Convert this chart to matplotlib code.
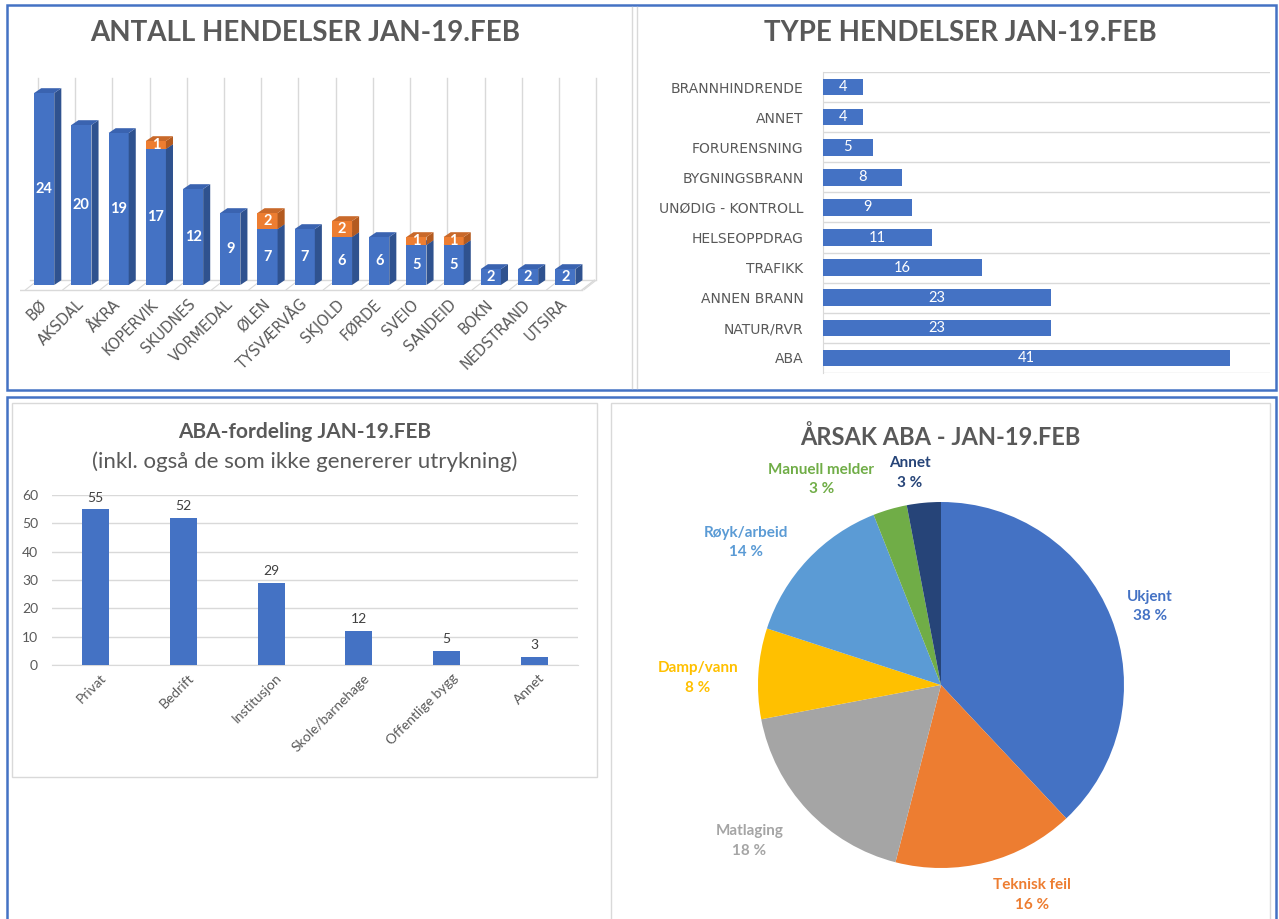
import numpy as np
import matplotlib
matplotlib.use("Agg")
import matplotlib.pyplot as plt
from matplotlib.patches import Rectangle, Polygon

# ---- data ----
places = ["BØ", "AKSDAL", "ÅKRA", "KOPERVIK", "SKUDNES", "VORMEDAL", "ØLEN", "TYSVÆRVÅG",
          "SKJOLD", "FØRDE", "SVEIO", "SANDEID", "BOKN", "NEDSTRAND", "UTSIRA"]
blue_counts = [24, 20, 19, 17, 12, 9, 7, 7, 6, 6, 5, 5, 2, 2, 2]
orange_counts = [0, 0, 0, 1, 0, 0, 2, 0, 2, 0, 1, 1, 0, 0, 0]

types = ["BRANNHINDRENDE", "ANNET", "FORURENSNING", "BYGNINGSBRANN", "UNØDIG - KONTROLL",
         "HELSEOPPDRAG", "TRAFIKK", "ANNEN BRANN", "NATUR/RVR", "ABA"]
type_counts = [4, 4, 5, 8, 9, 11, 16, 23, 23, 41]

aba_cats = ["Privat", "Bedrift", "Institusjon", "Skole/barnehage", "Offentlige bygg", "Annet"]
aba_counts = [55, 52, 29, 12, 5, 3]

cause_labels = ["Ukjent", "Teknisk feil", "Matlaging", "Damp/vann", "Røyk/arbeid",
                "Manuell melder", "Annet"]
cause_pct = [38, 16, 18, 8, 14, 3, 3]
cause_colors = ["#4472C4", "#ED7D31", "#A5A5A5", "#FFC000", "#5B9BD5", "#70AD47", "#264478"]
# label placement tweaks (radius factor, angle shift in degrees) like Excel's best-fit
label_r = [1.22, 1.25, 1.35, 1.33, 1.32, 1.30, 1.17]
label_shift = [-1, 9, -4, 2, 7, 14, 3]

W, H = 1279, 919
GRAY = "#595959"
GRID = "#d9d9d9"
plt.rcParams['font.family'] = ['Lato', 'DejaVu Sans']

fig = plt.figure(figsize=(W / 100, H / 100), dpi=100)


def px_rect(x0, y0, x1, y1):
    return [x0 / W, 1 - y1 / H, (x1 - x0) / W, (y1 - y0) / H]


def box(x0, y0, x1, y1, color, lw):
    fig.patches.append(Rectangle((x0 / W, 1 - y1 / H), (x1 - x0) / W, (y1 - y0) / H,
                                 transform=fig.transFigure, fill=False, ec=color, lw=lw))


def ftext(x, y, s, **kw):
    fig.text(x / W, 1 - y / H, s, ha='center', va='center', **kw)


# frames
box(7, 5, 1276, 390, "#4472C4", 1.8)
box(7, 397, 1276, 925, "#4472C4", 1.8)
fig.add_artist(plt.Line2D([632 / W] * 2, [1 - 7 / H, 1 - 388 / H], color=GRID, lw=1))
fig.add_artist(plt.Line2D([637 / W] * 2, [1 - 7 / H, 1 - 388 / H], color=GRID, lw=1))
box(12, 403, 597, 777, GRID, 1)
box(611, 403, 1270, 925, GRID, 1)

# ---- top left: pseudo 3D stacked columns ----
ax1 = fig.add_axes(px_rect(20, 75, 610, 295))
ax1.set_xlim(-0.65, 15.2)
ax1.set_ylim(-1.25, 26.25)
for s in ax1.spines.values():
    s.set_visible(False)
ax1.tick_params(length=0, pad=5)
ax1.set_yticks([])

dx, dy, hw = 0.19, 0.6, 0.27
back_x = np.arange(len(places) + 1) - 0.5 + 0.33
for bx in back_x:
    ax1.plot([bx, bx], [dy, 25.9], color=GRID, lw=1, zorder=0)
ax1.plot([-0.72, len(places) - 0.55], [-0.6, -0.6], color=GRID, lw=1, zorder=0)
ax1.plot([-0.72 + 0.33, len(places) - 0.55 + 0.33], [dy, dy], color=GRID, lw=1, zorder=0)
ax1.plot([len(places) - 0.55, len(places) - 0.55 + 0.33], [-0.6, dy], color=GRID, lw=1, zorder=0)
for bx in back_x:
    ax1.plot([bx - 0.33, bx], [-0.6, dy], color=GRID, lw=0.8, zorder=0)


def col3d(x, y0, y1, front, side, top):
    ax1.add_patch(Rectangle((x - hw, y0), 2 * hw, y1 - y0, fc=front, ec='none', zorder=3))
    ax1.add_patch(Polygon([(x + hw, y0), (x + hw + dx, y0 + dy), (x + hw + dx, y1 + dy), (x + hw, y1)],
                          fc=side, ec='none', zorder=3))
    ax1.add_patch(Polygon([(x - hw, y1), (x + hw, y1), (x + hw + dx, y1 + dy), (x - hw + dx, y1 + dy)],
                          fc=top, ec='none', zorder=3))


for i, (b, o) in enumerate(zip(blue_counts, orange_counts)):
    col3d(i, 0, b, "#4472C4", "#2F528F", "#3A63B0")
    ax1.text(i, b / 2, str(b), color='white', fontsize=10.5, fontweight='bold',
             ha='center', va='center', zorder=4)
    if o:
        col3d(i, b, b + o, "#ED7D31", "#B35A1F", "#C9692A")
        ax1.text(i, b + o / 2, str(o), color='white', fontsize=10.5, fontweight='bold',
                 ha='center', va='center', zorder=4)

ax1.set_xticks(range(len(places)))
ax1.set_xticklabels(places, rotation=45, ha='right', va='center', rotation_mode='anchor',
                    fontsize=10.5, color=GRAY, family='DejaVu Sans')
ftext(305, 33, "ANTALL HENDELSER JAN-19.FEB", fontsize=20, fontweight='bold', color=GRAY)

# ---- top right: horizontal bars ----
ax2 = fig.add_axes(px_rect(823, 72, 1270, 373))
yy = np.arange(len(types))
ax2.barh(yy, type_counts, height=0.55, color="#4472C4", zorder=3)
ax2.set_ylim(len(types) - 0.5, -0.5)
ax2.set_xlim(0, 45)
for k in range(len(types) + 1):
    ax2.axhline(k - 0.5, color=GRID, lw=1, zorder=1)
for s in ax2.spines.values():
    s.set_visible(False)
ax2.spines['left'].set_visible(True)
ax2.spines['left'].set_color(GRID)
ax2.set_xticks([])
ax2.set_yticks(yy)
ax2.set_yticklabels(types, fontsize=10, color=GRAY, family='DejaVu Sans')
ax2.tick_params(length=0, pad=14)
for y, v in zip(yy, type_counts):
    ax2.text(v / 2, y, str(v), color='white', fontsize=10.5, ha='center', va='center', zorder=4)
ftext(960, 33, "TYPE HENDELSER JAN-19.FEB", fontsize=20, fontweight='bold', color=GRAY)

# ---- bottom left: ABA columns ----
ax3 = fig.add_axes(px_rect(52, 495, 578, 665))
xx = np.arange(len(aba_cats))
ax3.bar(xx, aba_counts, width=0.31, color="#4472C4", zorder=3)
ax3.set_xlim(-0.5, len(aba_cats) - 0.5)
ax3.set_ylim(0, 60)
ax3.set_yticks(range(0, 61, 10))
ax3.yaxis.grid(True, color=GRID, lw=1, zorder=0)
for s in ax3.spines.values():
    s.set_visible(False)
ax3.spines['bottom'].set_visible(True)
ax3.spines['bottom'].set_color(GRID)
ax3.tick_params(length=0, labelsize=10, labelcolor=GRAY)
ax3.tick_params(axis='y', pad=10)
ax3.tick_params(axis='x', pad=8)
ax3.set_xticks(xx + 0.1)
ax3.set_xticklabels(aba_cats, rotation=45, ha='right', va='center', rotation_mode='anchor')
for x, v in zip(xx, aba_counts):
    ax3.text(x, v + 2, str(v), ha='center', va='bottom', fontsize=10, color="#404040")
ftext(305, 432, "ABA-fordeling JAN-19.FEB", fontsize=15, fontweight='bold', color=GRAY)
ftext(305, 462, "(inkl. også de som ikke genererer utrykning)", fontsize=16, color=GRAY)

# ---- bottom right: pie ----
R = 183
ax4 = fig.add_axes(px_rect(941 - 250, 685 - 250, 941 + 250, 685 + 250))
wedges, _ = ax4.pie(cause_pct, colors=cause_colors, startangle=90, counterclock=False,
                    radius=1, wedgeprops=dict(linewidth=0))
ax4.set_xlim(-250 / R, 250 / R)
ax4.set_ylim(-250 / R, 250 / R)
ax4.axis('off')
for w, lab, p, c, lr, sh in zip(wedges, cause_labels, cause_pct, cause_colors, label_r, label_shift):
    ang = np.deg2rad((w.theta1 + w.theta2) / 2 + sh)
    ax4.text(lr * np.cos(ang), lr * np.sin(ang), f"{lab}\n{p} %", color=c, fontsize=11,
             fontweight='bold', ha='center', va='center', linespacing=1.5)
ftext(940, 437, "ÅRSAK ABA - JAN-19.FEB", fontsize=17, fontweight='bold', color=GRAY)

fig.savefig("out.png", dpi=100)
